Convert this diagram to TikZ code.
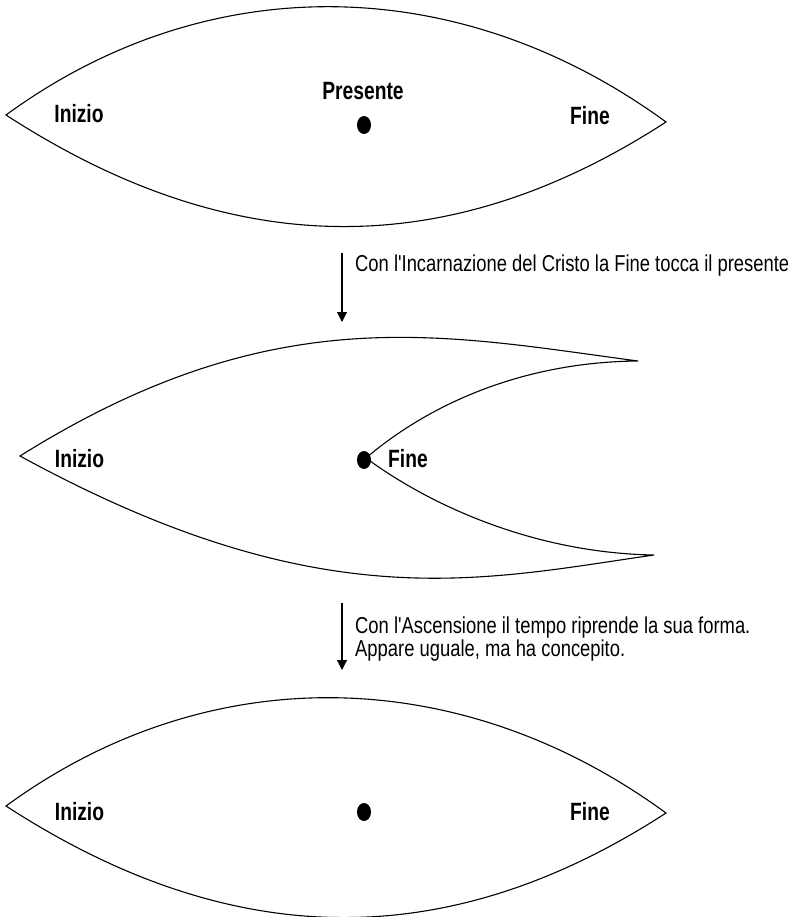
\documentclass[tikz,border=0pt]{standalone}
\usepackage{graphicx}
\usepackage{fontspec}
\setmainfont{Liberation Sans}[Ligatures=TeXOff]
\usetikzlibrary{arrows.meta}
\newcommand\boldlbl[1]{\scalebox{0.77}[1]{\fontsize{25}{30}\selectfont\bfseries #1}}
\newcommand\plainlbl[1]{\scalebox{0.80}[1]{\fontsize{23}{22}\selectfont #1}}
\begin{document}
\begin{tikzpicture}[x=1pt,y=-1pt,
  lensline/.style={draw=black,line width=1.1pt,line join=miter},
  lbl/.style={inner sep=0pt,anchor=base},
  txt/.style={inner sep=0pt,anchor=base west},
  dotm/.style={fill=black},
  conn/.style={draw=black,line width=1.1pt,-{Triangle[width=10pt,length=10pt]}}]
\useasboundingbox (0,0) rectangle (797,917);
\fill[white] (0,0) rectangle (797,917);

% ---------- lens 1 ----------
\draw[lensline] (6,115) .. controls (210,-34) and (462,-27) .. (666,122)
  .. controls (444,266) and (228,259) .. cycle;
\node[lbl] (inizio1) at (79,123) {\boldlbl{Inizio}};
\node[lbl] (fine1) at (590,125) {\boldlbl{Fine}};
\node[lbl] (presente) at (363,100) {\boldlbl{Presente}};
\fill[dotm] (364,125) ellipse [x radius=7, y radius=9];
\coordinate (dot1) at (364,125);

% ---------- arrow 1 ----------
\coordinate (a1s) at (342,253);
\coordinate (a1e) at (342,322);
\draw[conn] (a1s) -- (a1e);
\node[txt] (t1) at (355,271) {\plainlbl{Con l'Incarnazione del Cristo la Fine tocca il presente}};

% ---------- lens 2 ----------
\draw[lensline] (20,456) .. controls (274,297) and (442,335) .. (638,361)
  .. controls (520,362) and (427,406) .. (366,458)
  .. controls (431,506) and (535,553) .. (654,555)
  .. controls (480,580) and (320,620) .. cycle;
\fill[dotm] (364,460) ellipse [x radius=7, y radius=9];
\coordinate (dot2) at (364,460);
\node[lbl] (inizio2) at (79.5,467) {\boldlbl{Inizio}};
\node[lbl] (fine2) at (408,467) {\boldlbl{Fine}};

% ---------- arrow 2 ----------
\coordinate (a2s) at (342,603);
\coordinate (a2e) at (342,670);
\draw[conn] (a2s) -- (a2e);
\node[txt] (t2) at (355,633) {\plainlbl{\begin{tabular}[t]{@{}l@{}}Con l'Ascensione il tempo riprende la sua forma.\\Appare uguale, ma ha concepito.\end{tabular}}};

% ---------- lens 3 ----------
\draw[lensline] (6,806) .. controls (210,657) and (462,664) .. (666,813)
  .. controls (444,957) and (228,950) .. cycle;
\node[lbl] (inizio3) at (79.5,820.5) {\boldlbl{Inizio}};
\node[lbl] (fine3) at (590,820) {\boldlbl{Fine}};
\fill[dotm] (364,812) ellipse [x radius=7, y radius=9];
\coordinate (dot3) at (364,812);
\end{tikzpicture}
\end{document}
